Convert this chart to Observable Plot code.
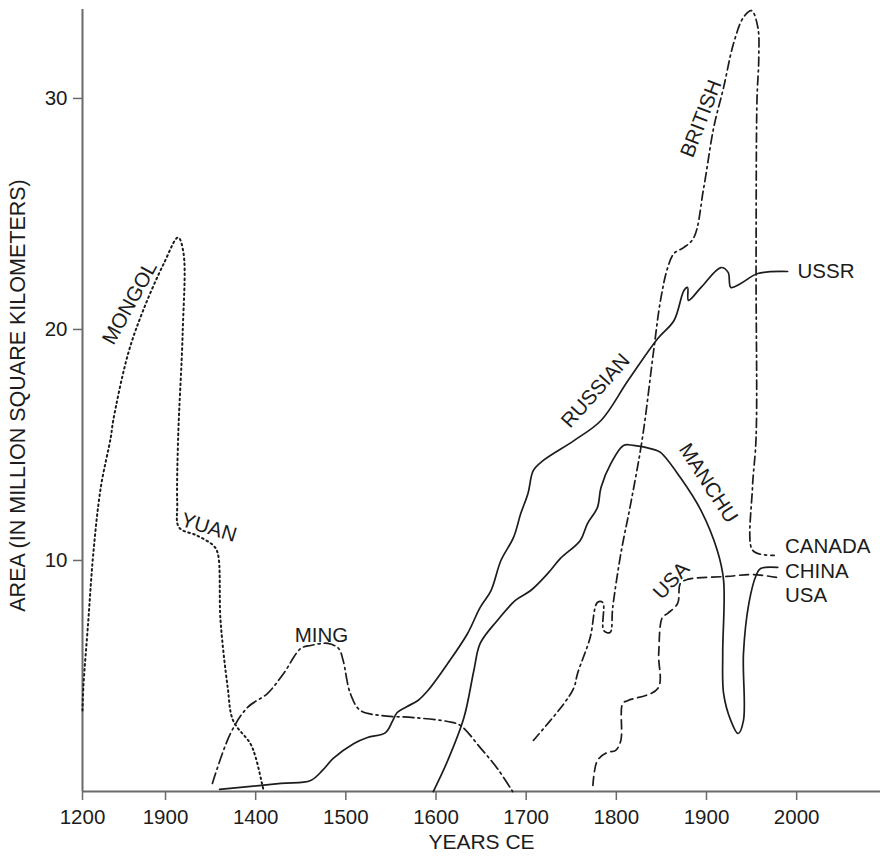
<!DOCTYPE html>
<html><head><meta charset="utf-8">
<script src="https://cdn.jsdelivr.net/npm/d3@7"></script>
<script src="https://cdn.jsdelivr.net/npm/@observablehq/plot@0.6"></script>
<style>html,body{margin:0;padding:0;background:#fff;}</style>
</head><body><div id="chart"></div>
<script>
// ---- data (years CE, area in million km²) ----
const mongolYuanYear = [1200,1201,1207,1213,1222,1234,1237,1255,1273,1298,1314,1320,1319,1314,1313,1315,1335,1353,1358,1361,1369,1375,1394,1400,1408,1409];
const mongolYuanArea = [3.51,4.50,7.40,10.30,13.16,15.32,16.06,18.96,20.82,22.86,23.98,23.29,19.83,15.32,12.47,11.43,11.08,10.65,10.30,7.40,4.50,3.07,2.08,1.47,0.17,0];

const mingYear = [1352,1372,1391,1413,1431,1450,1461,1480,1492,1497,1505,1516,1539,1575,1613,1627,1649,1668,1685];
const mingArea = [0.35,2.51,3.64,4.24,5.11,6.19,6.32,6.41,6.19,5.67,4.24,3.51,3.29,3.20,3.03,2.86,1.90,1.00,0];

const russianYear = [1360,1428,1461,1474,1486,1509,1524,1544,1552,1557,1568,1580,1591,1613,1635,1649,1661,1672,1686,1694,1702,1708,1719,1753,1783,1813,1846,1864,1875,1879,1880,1894,1916,1924,1927,1938,1957,1990];
const russianArea = [0.09,0.35,0.48,0.91,1.43,2.08,2.34,2.55,3.07,3.42,3.68,3.94,4.37,5.54,6.84,7.97,8.70,10.0,11.0,12.03,12.90,13.90,14.33,15.19,16.06,17.79,19.61,20.39,21.69,21.82,21.26,21.82,22.68,22.47,21.82,21.99,22.42,22.51];

const manchuYear = [1597,1613,1631,1642,1649,1668,1688,1705,1724,1738,1760,1768,1779,1783,1794,1808,1819,1841,1849,1871,1894,1912,1919,1918,1919,1927,1935,1941,1941,1947,1955,1960,1979];
const manchuArea = [0,1.34,3.20,5.24,6.41,7.40,8.27,8.70,9.44,10.09,10.87,11.60,12.29,13.16,14.20,14.98,14.98,14.81,14.68,13.59,12.16,10.43,9.13,5.97,4.24,3.07,2.51,3.07,5.97,8.14,9.35,9.65,9.70];

const usaYear = [1774,1779,1790,1799,1805,1807,1813,1846,1847,1851,1857,1868,1871,1879,1923,1952,1979];
const usaArea = [0.26,1.34,1.69,1.77,2.21,3.81,3.94,4.46,5.97,7.53,7.71,8.14,9.00,9.18,9.31,9.39,9.26];

const britishYear = [1708,1742,1753,1757,1771,1779,1785,1786,1793,1796,1805,1816,1829,1841,1849,1857,1864,1875,1886,1897,1908,1919,1930,1941,1950,1957,1958,1956,1955,1955,1951,1950,1957,1975];
const britishArea = [2.21,3.81,4.50,5.11,6.67,8.18,8.18,6.97,6.88,7.97,10.30,12.47,15.32,18.96,21.26,22.68,23.29,23.55,23.98,26.15,28.74,30.48,32.38,33.51,33.80,33.07,31.77,29.91,22.68,15.32,13.16,10.52,10.30,10.22];

// curve labels: text, position, rotation, anchor
const labelText   = ["MONGOL","YUAN","MING","RUSSIAN","BRITISH","USSR","MANCHU","USA","CANADA","CHINA","USA"];
const labelYear   = [1257,1348,1473,1777,1894,2001,1902,1861,1987,1987,1987];
const labelArea   = [21.15,11.43,6.75,17.35,29.13,22.51,13.35,9.13,10.61,9.52,8.48];
const labelRotate = [-61,17,0,-48,-69,0,57,-47,0,0,0];
const labelAnchor = ["middle","middle","middle","middle","middle","start","middle","middle","start","start","start"];

const xTickValues = [1200,1300,1400,1500,1600,1700,1800,1900,2000];
const xTickLabels = ["1200","1900","1400","1500","1600","1700","1800","1900","2000"];
const yTickValues = [10,20,30];

// the first century (1200-1300) is drawn slightly compressed on the original axis
const firstCenturyRatio = 83 / 90.14;
const xPos = yr => yr >= 1300 ? yr : 1300 - (1300 - yr) * firstCenturyRatio;

// ---- build rows ----
const rows = (name, ys, as) => ys.map((y, i) => ({series: name, year: y, area: as[i]}));
const mongolRows = rows("MONGOL-YUAN", mongolYuanYear, mongolYuanArea);
const mingRows = rows("MING", mingYear, mingArea);
const solidRows = [...rows("RUSSIAN-USSR", russianYear, russianArea), ...rows("MANCHU-CHINA", manchuYear, manchuArea)];
const usaRows = rows("USA", usaYear, usaArea);
const britishRows = rows("BRITISH-CANADA", britishYear, britishArea);
const labels = labelText.map((t, i) => ({text: t, year: labelYear[i], area: labelArea[i], rotate: labelRotate[i], anchor: labelAnchor[i]}));
const xTickPos = xTickValues.map(xPos);

const ink = "#1c1c1c";
const axisGray = "#6a6a6a";
const lineW = 1.7;
const fs = 20.5;
const X = d => xPos(d.year);

const chart = Plot.plot({
  width: 880,
  height: 861,
  marginLeft: 82,
  marginRight: 0,
  marginTop: 9,
  marginBottom: 70,
  style: {fontFamily: "'Liberation Sans', Arial, sans-serif", fontSize: "20px", color: ink, background: "#fff"},
  x: {domain: [xPos(1200), 2093]},
  y: {domain: [0, 33.85]},
  marks: [
    Plot.axisY({ticks: yTickValues, tickSize: 9, tickPadding: 6, stroke: axisGray, strokeWidth: 1.5, fill: ink, fontSize: fs, label: null}),
    Plot.axisX({ticks: xTickPos, tickFormat: d => xTickLabels[xTickPos.indexOf(d)], tickSize: 9, tickPadding: 9, stroke: axisGray, strokeWidth: 1.5, fill: ink, fontSize: fs, label: null}),
    Plot.ruleY([0], {stroke: axisGray, strokeWidth: 2}),
    Plot.ruleX([xPos(1200)], {stroke: axisGray, strokeWidth: 2}),
    Plot.line(mongolRows, {x: X, y: "area", z: "series", curve: "catmull-rom", stroke: ink, strokeWidth: lineW + 0.3, strokeDasharray: "1.6,3.4", strokeLinecap: "round"}),
    Plot.line(mingRows, {x: X, y: "area", z: "series", curve: "catmull-rom", stroke: ink, strokeWidth: lineW, strokeDasharray: "11,4,2,4"}),
    Plot.line(solidRows, {x: X, y: "area", z: "series", curve: "catmull-rom", stroke: ink, strokeWidth: lineW}),
    Plot.line(usaRows, {x: X, y: "area", z: "series", curve: "catmull-rom", stroke: ink, strokeWidth: lineW, strokeDasharray: "9,5"}),
    Plot.line(britishRows, {x: X, y: "area", z: "series", curve: "catmull-rom", stroke: ink, strokeWidth: lineW, strokeDasharray: "9,4,2,4"}),
    Plot.text(labels.filter(d => d.anchor === "middle"), {x: X, y: "area", text: "text", rotate: "rotate", textAnchor: "middle", fill: ink, fontSize: fs}),
    Plot.text(labels.filter(d => d.anchor === "start"), {x: X, y: "area", text: "text", textAnchor: "start", fill: ink, fontSize: fs}),
    Plot.text(["AREA (IN MILLION SQUARE KILOMETERS)"], {frameAnchor: "left", dx: -64, dy: -5, rotate: -90, textAnchor: "middle", fill: ink, fontSize: 21.5}),
    Plot.text(["YEARS CE"], {frameAnchor: "bottom", dy: 57, textAnchor: "middle", fill: ink, fontSize: 21})
  ]
});
document.getElementById("chart").appendChild(chart);
</script>
</body></html>
